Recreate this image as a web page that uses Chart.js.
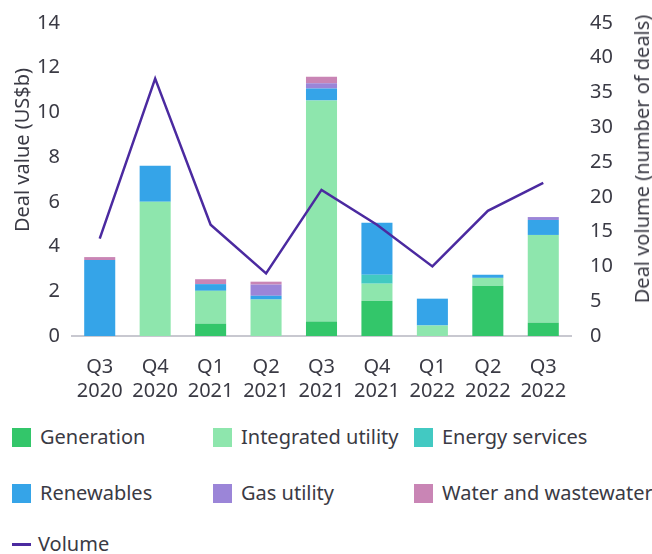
<!DOCTYPE html>
<html>
<head>
<meta charset="utf-8">
<script src="https://cdn.jsdelivr.net/npm/chart.js@4"></script>
<style>
  html, body { margin: 0; padding: 0; background: #fff; }
  body { width: 652px; height: 554px; position: relative; overflow: hidden; font-family: "Noto Sans", sans-serif; color: #3a3a44; }
  #wrap { position: absolute; left: 0; top: 0; width: 652px; height: 422px; }
  .lg { position: absolute; font-size: 20px; line-height: 20px; white-space: nowrap; }
  .sw { position: absolute; width: 19px; height: 19px; }
  .ln { position: absolute; width: 19px; height: 3px; background: #4b2aa0; }
  .ttl { position: absolute; font-size: 20px; line-height: 20px; white-space: nowrap; transform: translate(-50%, -50%) rotate(-90deg); }
</style>
</head>
<body>
<div id="wrap"><canvas id="chart"></canvas></div>
<div class="ttl" style="left:22px; top:150px;">Deal value (US$b)</div>
<div class="ttl" style="left:642px; top:159px;">Deal volume (number of deals)</div>
<div id="legend"></div>
<script>
// ===== データ =====
const quarters = [["Q3", "2020"], ["Q4", "2020"], ["Q1", "2021"], ["Q2", "2021"], ["Q3", "2021"],
                  ["Q4", "2021"], ["Q1", "2022"], ["Q2", "2022"], ["Q3", "2022"]];
const generation = [0, 0, 0.55, 0, 0.65, 1.58, 0, 2.25, 0.6];
const integratedUtility = [0, 6.0, 1.47, 1.63, 9.88, 0.76, 0.47, 0.35, 3.92];
const energyServices = [0, 0, 0, 0, 0, 0.4, 0, 0, 0];
const renewables = [3.4, 1.62, 0.3, 0.17, 0.54, 2.32, 1.2, 0.14, 0.67];
const gasUtility = [0, 0, 0, 0.5, 0.23, 0, 0, 0, 0.13];
const waterWastewater = [0.13, 0, 0.22, 0.13, 0.3, 0, 0, 0, 0];
const volume = [14, 37, 16, 9, 21, 16, 10, 18, 22];
const leftTicks = [0, 2, 4, 6, 8, 10, 12, 14];
const rightTicks = [0, 5, 10, 15, 20, 25, 30, 35, 40, 45];

const font = { family: "Noto Sans", size: 20 };
const textColor = "#3a3a44";

const barSets = [
  { label: "Generation", data: generation, color: "#33c66a" },
  { label: "Integrated utility", data: integratedUtility, color: "#8ee6ad" },
  { label: "Energy services", data: energyServices, color: "#42c9c2" },
  { label: "Renewables", data: renewables, color: "#35a4e8" },
  { label: "Gas utility", data: gasUtility, color: "#9b85d8" },
  { label: "Water and wastewater", data: waterWastewater, color: "#c985b5" }
];

const datasets = barSets.map(s => ({
  type: "bar",
  label: s.label,
  data: s.data,
  backgroundColor: s.color,
  yAxisID: "y",
  stack: "deals",
  order: 1,
  barPercentage: 0.56,
  categoryPercentage: 1
}));
datasets.push({
  type: "line",
  label: "Volume",
  data: volume,
  borderColor: "#4b2aa0",
  borderWidth: 2.5,
  pointRadius: 0,
  tension: 0,
  yAxisID: "y1",
  order: 0
});

new Chart(document.getElementById("chart"), {
  data: { labels: quarters, datasets },
  options: {
    responsive: true,
    maintainAspectRatio: false,
    animation: false,
    layout: { padding: { top: 6, left: 0, right: 0, bottom: 0 } },
    plugins: { legend: { display: false }, tooltip: { enabled: false } },
    scales: {
      x: {
        stacked: true,
        grid: { display: false, drawTicks: false },
        border: { color: "#c8c8d0", width: 2 },
        ticks: { color: textColor, font, padding: 19, maxRotation: 0 }
      },
      y: {
        position: "left",
        stacked: true,
        min: 0, max: 14,
        afterBuildTicks: a => { a.ticks = leftTicks.map(v => ({ value: v })); },
        afterFit: a => { a.width = 72; },
        grid: { display: false },
        border: { display: false },
        ticks: { color: textColor, font, padding: 4 }
      },
      y1: {
        position: "right",
        min: 0, max: 45,
        afterBuildTicks: a => { a.ticks = rightTicks.map(v => ({ value: v })); },
        afterFit: a => { a.width = 81; },
        grid: { display: false },
        border: { display: false },
        ticks: { color: textColor, font, padding: 11 }
      }
    }
  }
});

// ===== 凡例 =====
const legend = document.getElementById("legend");
const pos = [[12, 428], [213, 428], [414, 428], [12, 484], [213, 484], [414, 484]];
barSets.forEach((s, i) => {
  const [x, y] = pos[i];
  const sw = document.createElement("div");
  sw.className = "sw";
  sw.style.left = x + "px"; sw.style.top = y + "px"; sw.style.background = s.color;
  legend.appendChild(sw);
  const t = document.createElement("div");
  t.className = "lg";
  t.style.left = (x + 28) + "px"; t.style.top = (y - 1) + "px";
  t.textContent = s.label;
  legend.appendChild(t);
});
const ln = document.createElement("div");
ln.className = "ln";
ln.style.left = "12px"; ln.style.top = "543px";
legend.appendChild(ln);
const vt = document.createElement("div");
vt.className = "lg";
vt.style.left = "38px"; vt.style.top = "534px";
vt.textContent = "Volume";
legend.appendChild(vt);
</script>
</body>
</html>
